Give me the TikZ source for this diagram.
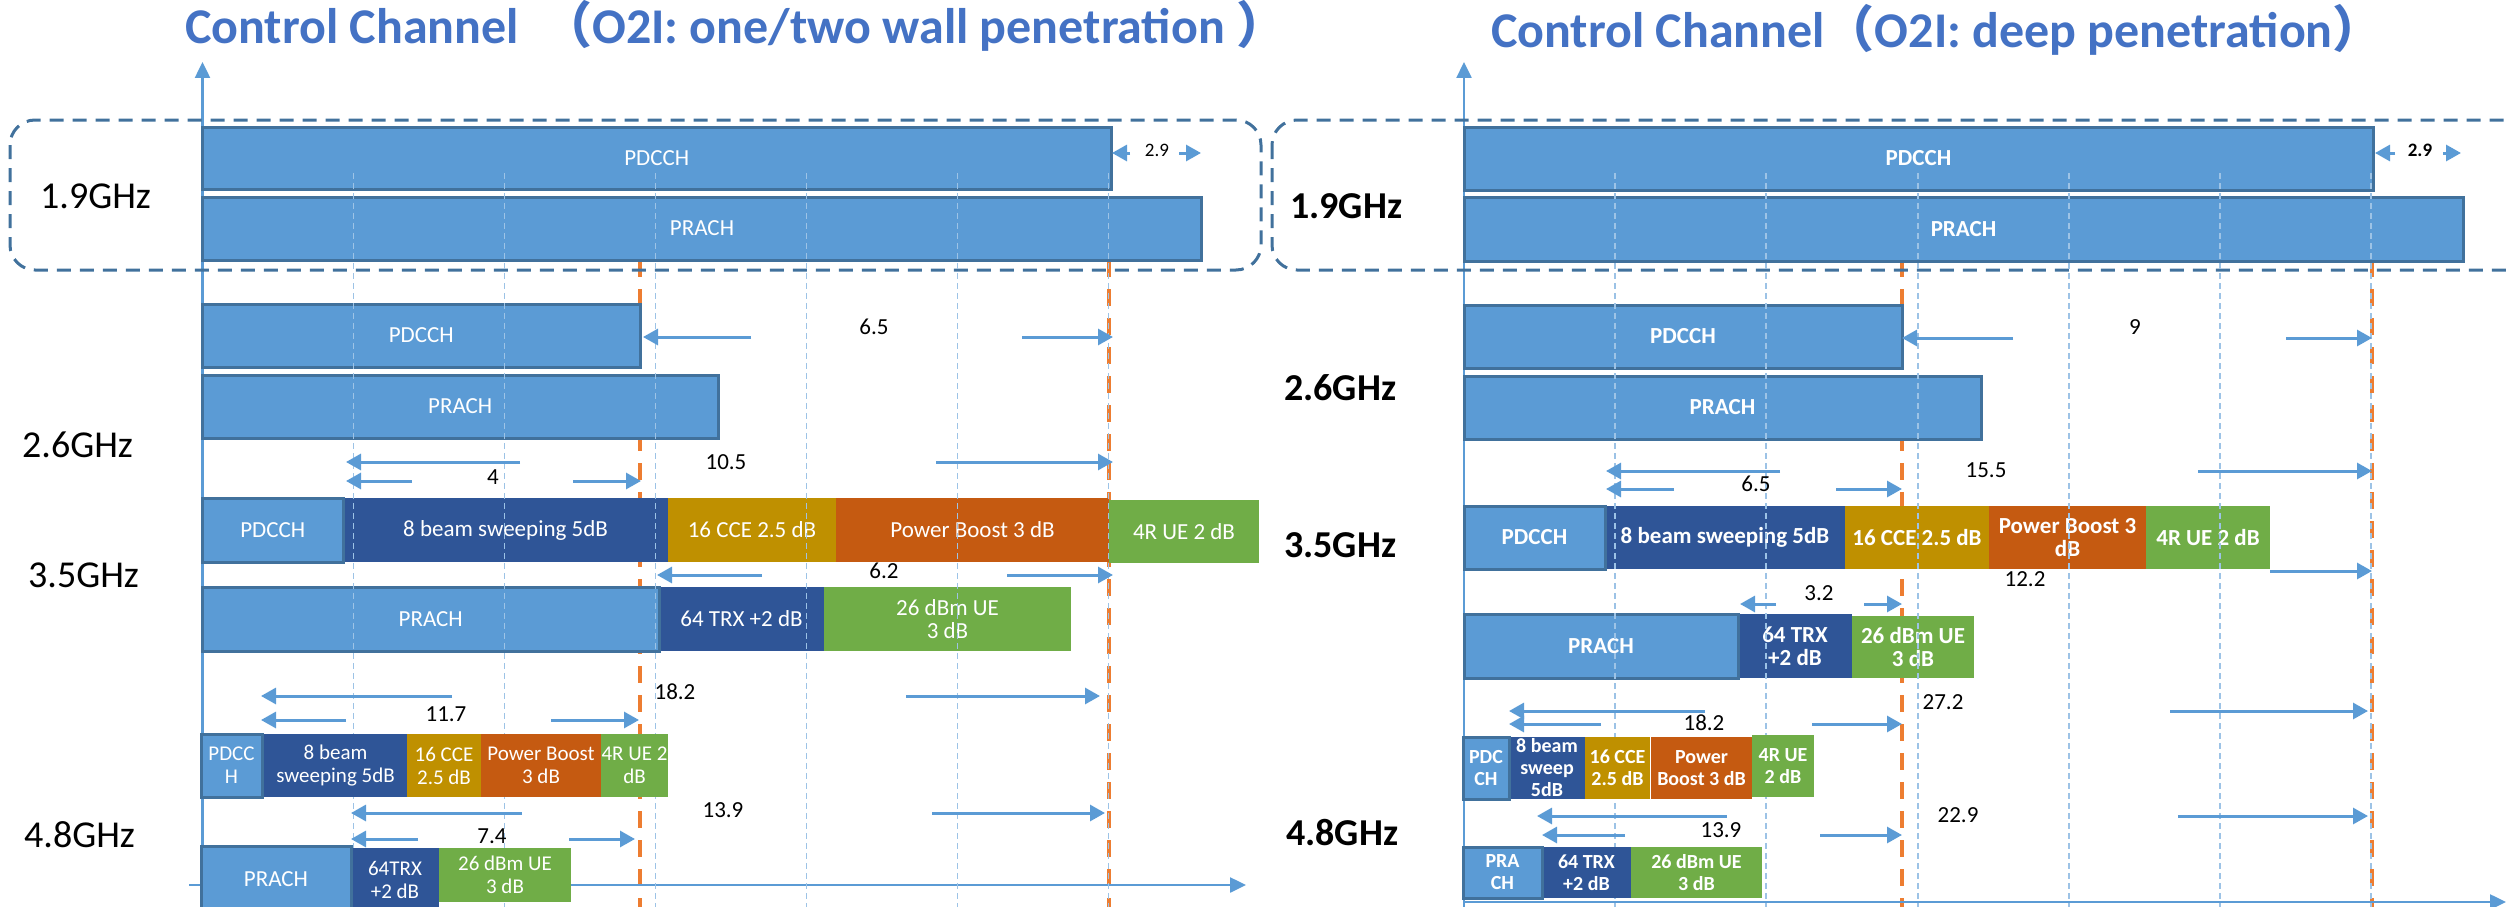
\documentclass[tikz,border=0pt]{standalone}
\usepackage{fontspec}
\setmainfont{Carlito}
\newfontfamily\cjk{Noto Sans CJK SC}
\usetikzlibrary{arrows.meta}
\definecolor{lblue}{HTML}{5B9BD5}
\definecolor{lborder}{HTML}{41719C}
\definecolor{dblue}{HTML}{2F5597}
\definecolor{gold}{HTML}{BF9000}
\definecolor{orng}{HTML}{C55A11}
\definecolor{grn}{HTML}{70AD47}
\definecolor{tblue}{HTML}{4472C4}
\definecolor{gridc}{HTML}{9DC3E6}
\definecolor{odash}{HTML}{ED7D31}
\definecolor{rectc}{HTML}{41719C}
\tikzset{
 lbox/.style={draw=lborder, line width=3pt, fill=lblue, inner sep=0pt},
 dbox/.style={fill=dblue, inner sep=0pt},
 gbox/.style={fill=gold, inner sep=0pt},
 obox/.style={fill=orng, inner sep=0pt},
 grbox/.style={fill=grn, inner sep=0pt},
 boxtext/.style={text=white, align=center, inner sep=0pt, font=\fontsize{23}{23}\selectfont},
 dimarrow/.style={draw=lblue, line width=3pt, -{Triangle[length=15pt,width=16pt]}},
 numlbl/.style={text=black, inner sep=0pt, font=\fontsize{23}{27}\selectfont},
 freqlbl/.style={anchor=base west, inner sep=0pt, font=\fontsize{38}{44}\selectfont},
 freqbold/.style={anchor=base west, inner sep=0pt, font=\fontsize{38}{44}\selectfont\bfseries},
 gridline/.style={draw=gridc, line width=1.5pt, dash pattern=on 6pt off 4pt},
 orangeline/.style={draw=odash, line width=4pt, dash pattern=on 17pt off 12pt},
 axis/.style={draw=lblue, line width=2.5pt, -{Triangle[length=16pt,width=15pt]}},
 zonebox/.style={draw=rectc, line width=3pt, dash pattern=on 14pt off 9pt, rounded corners=25pt},
 titlelbl/.style={anchor=base west, inner sep=0pt, text=tblue, font=\fontsize{50}{60}\selectfont\bfseries},
}
% box: style, name, x1, y1, x2, y2, text
\newcommand\bx[7]{%
 \node[#1, minimum width={(#5-#3)*1pt}, minimum height={(#6-#4)*1pt}] (#2) at ({(#3+#5)/2},{(#4+#6)/2}) {};
 \node[boxtext] (#2-t) at (#2.center) {#7};}
% gapped double arrow: name, y, left tip, left tail, right tail, right tip, label, lx, ly
\newcommand\darr[9]{%
 \coordinate (#1-lt) at (#3,#2); \coordinate (#1-la) at (#4,#2);
 \coordinate (#1-ra) at (#5,#2); \coordinate (#1-rt) at (#6,#2);
 \draw[dimarrow] (#1-la) -- (#1-lt);
 \draw[dimarrow] (#1-ra) -- (#1-rt);
 \node[numlbl] (#1-lbl) at (#8,#9) {#7};}
\begin{document}
\begin{tikzpicture}[x=1pt,y=-1pt]
\useasboundingbox (0,0) rectangle (2509,907);
% orange reference lines
\foreach \x in {640,1109,1902,2372} \draw[orangeline] (\x,260) -- (\x,912);
% axes
\coordinate (lyo) at (202.5,912); \coordinate (lyt) at (202.5,62);
\coordinate (lxo) at (189,885); \coordinate (lxt) at (1246,885);
\coordinate (ryo) at (1464,912); \coordinate (ryt) at (1464,62);
\coordinate (rxo) at (1464,902); \coordinate (rxt) at (2506,902);
\draw[axis] (lyo) -- (lyt);
\draw[axis] (lxo) -- (lxt);
\draw[axis] (ryo) -- (ryt);
\draw[axis] (rxo) -- (rxt);
% 1.9 GHz zones
\draw[zonebox] (10,120) rectangle (1261,270);
\draw[zonebox] (1272,120) rectangle (2560,270);
% titles
\node[titlelbl] (title1) at (185,44) {Control Channel\hspace{12pt} {\cjk （}O2I: one/two wall penetration {\cjk ）}};
\node[titlelbl] (title2) at (1491,48) {Control Channel{\cjk （}O2I: deep penetration{\cjk ）}};
% frequency labels
\node[freqlbl] (f19a) at (40,208) {1.9GHz};
\node[freqlbl] (f26a) at (22,457) {2.6GHz};
\node[freqlbl] (f35a) at (28,587) {3.5GHz};
\node[freqlbl] (f48a) at (24,847) {4.8GHz};
\node[freqbold] (f19b) at (1290,218) {1.9GHz};
\node[freqbold] (f26b) at (1284,400) {2.6GHz};
\node[freqbold] (f35b) at (1284,557) {3.5GHz};
\node[freqbold] (f48b) at (1286,845) {4.8GHz};
% left panel upper rows
\bx{lbox}{a19d}{202.5}{127}{1111}{189}{PDCCH}
\bx{lbox}{a19p}{202.5}{197}{1201.5}{260}{PRACH}
\bx{lbox}{a26d}{202.5}{304}{640}{367}{PDCCH}
\bx{lbox}{a26p}{202.5}{375}{718}{438}{PRACH}
\bx{dbox}{a35b}{343}{498}{668}{562}{8 beam sweeping 5dB}
\bx{gbox}{a35c}{668}{498}{836}{562}{16 CCE 2.5 dB}
\bx{obox}{a35o}{836}{498}{1109}{562}{Power Boost 3 dB}
\bx{grbox}{a35u}{1109}{500}{1259}{563}{4R UE 2 dB}
\bx{lbox}{a35d}{202.5}{498}{343}{562}{PDCCH}
\bx{dbox}{a35t}{659}{587}{824}{651}{64 TRX +2 dB}
\bx{grbox}{a35g}{824}{587}{1071}{651}{26 dBm UE\\3 dB}
\bx{lbox}{a35p}{202.5}{587}{659}{651}{PRACH}
% right panel upper rows
\begin{scope}[boxtext/.style={text=white, align=center, inner sep=0pt, font=\fontsize{23}{23}\selectfont\bfseries}]
\bx{lbox}{b19d}{1464}{127}{2373}{190}{PDCCH}
\bx{lbox}{b19p}{1464}{197}{2463}{261}{PRACH}
\bx{lbox}{b26d}{1464}{305}{1902}{368}{PDCCH}
\bx{lbox}{b26p}{1464}{376}{1981}{439}{PRACH}
\bx{dbox}{b35b}{1605}{506}{1845}{569}{8 beam sweeping 5dB}
\bx{gbox}{b35c}{1845}{506}{1989}{569}{16 CCE 2.5 dB}
\bx{obox}{b35o}{1989}{506}{2146}{569}{Power Boost 3\\dB}
\bx{grbox}{b35u}{2146}{506}{2270}{569}{4R UE 2 dB}
\bx{lbox}{b35d}{1464}{506}{1605}{569}{PDCCH}
\bx{dbox}{b35t}{1738}{614}{1852}{678}{64 TRX\\+2 dB}
\bx{grbox}{b35g}{1852}{616}{1974}{678}{26 dBm UE\\3 dB}
\bx{lbox}{b35p}{1464}{614}{1738}{678}{PRACH}
\end{scope}
% grid lines
\foreach \x in {353.5,504.5,655.5,806.5,957.5,1108.5,1615,1766,1918,2069,2220,2371}
  \draw[gridline] (\x,173) -- (\x,912);
% left 4.8 GHz rows
\begin{scope}[boxtext/.style={text=white, align=center, inner sep=0pt, font=\fontsize{21}{23}\selectfont}]
\bx{dbox}{a48b}{264}{734}{407}{797}{8 beam\\sweeping 5dB}
\bx{gbox}{a48c}{407}{734}{481}{797}{16 CCE\\2.5 dB}
\bx{obox}{a48o}{481}{734}{601}{797}{Power Boost\\3 dB}
\bx{grbox}{a48u}{601}{734}{668}{797}{4R UE 2\\dB}
\bx{lbox}{a48d}{201}{734}{262}{797}{PDCC\\H}
\bx{dbox}{a48t}{351}{848}{439}{912}{64TRX\\+2 dB}
\bx{grbox}{a48g}{439}{848}{571}{902}{26 dBm UE\\3 dB}
\bx{lbox}{a48p}{201}{846}{351}{912}{\fontsize{23}{23}\selectfont PRACH}
\end{scope}
% right 4.8 GHz rows
\begin{scope}[boxtext/.style={text=white, align=center, inner sep=0pt, font=\fontsize{20}{22}\selectfont\bfseries}]
\bx{dbox}{b48b}{1509}{737}{1585}{799}{8 beam\\sweep\\5dB}
\bx{gbox}{b48c}{1585}{737}{1650}{799}{16 CCE\\2.5 dB}
\bx{obox}{b48o}{1651}{737}{1752}{799}{Power\\Boost 3 dB}
\bx{grbox}{b48u}{1752}{735}{1814}{797}{4R UE\\2 dB}
\bx{lbox}{b48d}{1463}{737}{1509}{799}{PDC\\CH}
\bx{dbox}{b48t}{1542}{847}{1631}{898}{64 TRX\\+2 dB}
\bx{grbox}{b48g}{1631}{847}{1762}{898}{26 dBm UE\\3 dB}
\bx{lbox}{b48p}{1463}{847}{1542}{898}{PRA\\CH}
\end{scope}
% left dimension arrows
\darr{d29a}{153}{1112}{1130}{1179}{1201}{\fontsize{19}{22}\selectfont 2.9}{1157}{150}
\darr{d65a}{337}{643}{751}{1022}{1113}{6.5}{874}{327}
\darr{d105a}{462}{346}{520}{936}{1113}{10.5}{726}{462}
\darr{d4a}{481}{346}{412}{573}{641}{4}{493}{477}
\darr{d62a}{575}{657}{762}{1007}{1113}{6.2}{884}{571}
\darr{d182a}{696}{261}{452}{906}{1100}{18.2}{675}{692}
\darr{d117a}{720}{261}{346}{551}{639}{11.7}{446}{714}
\darr{d139a}{813}{351}{522}{932}{1105}{13.9}{723}{810}
\darr{d74a}{839}{351}{418}{569}{635}{7.4}{492}{836}
% right dimension arrows
\darr{d29b}{153}{2375}{2395}{2443}{2461}{\fontsize{19}{22}\selectfont\bfseries 2.9}{2420}{150}
\darr{d9b}{338}{1902}{2013}{2286}{2372}{9}{2135}{327}
\darr{d155b}{471}{1606}{1780}{2198}{2372}{15.5}{1986}{470}
\darr{d65b}{489}{1606}{1674}{1836}{1902}{6.5}{1756}{484}
\coordinate (d122b-ra) at (2270,571); \coordinate (d122b-rt) at (2372,571);
\draw[dimarrow] (d122b-ra) -- (d122b-rt);
\node[numlbl] (d122b-lbl) at (2025,579.5) {12.2};
\darr{d32b}{604}{1740}{1776}{1864}{1902}{3.2}{1819}{593}
\darr{d272b}{711}{1509}{1705}{2170}{2368}{27.2}{1943}{702}
\darr{d182b}{724}{1509}{1601}{1812}{1902}{18.2}{1704}{723}
\darr{d229b}{816}{1537}{1727}{2178}{2368}{22.9}{1958}{815}
\darr{d139b}{835}{1542}{1625}{1820}{1902}{13.9}{1721}{830}
\end{tikzpicture}
\end{document}
